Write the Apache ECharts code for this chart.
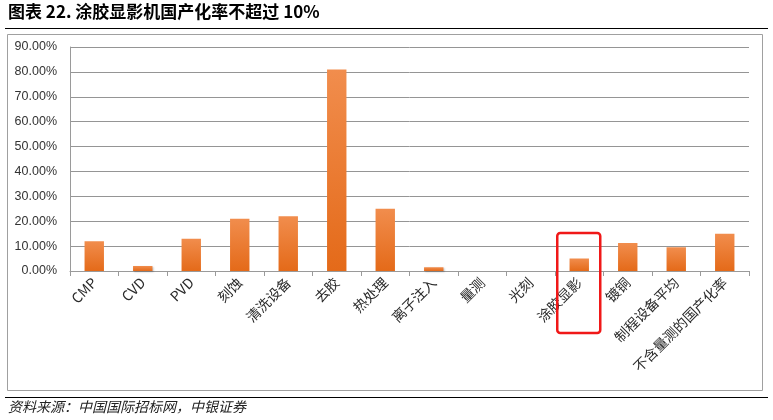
<!DOCTYPE html>
<html>
<head>
<meta charset="utf-8">
<script src="https://cdn.jsdelivr.net/npm/echarts@6/dist/echarts.min.js"></script>
<style>
html,body{margin:0;padding:0;background:#fff;}
#c{width:773px;height:420px;}
</style>
</head>
<body>
<div id="c"></div>
<script>
const categories = ['CMP','CVD','PVD','刻蚀','清洗设备','去胶','热处理','离子注入','量测','光刻','涂胶显影','镀铜','制程设备平均','不含量测的国产化率'];
const values = [12, 2, 13, 21, 22, 81, 25, 1.5, 0, 0, 5, 11.2, 9.5, 15];
const yTicks = {min: 0, max: 90, interval: 10};
const titleText = '图表 22. 涂胶显影机国产化率不超过 10%';
const sourceText = '资料来源：中国国际招标网，中银证券';
const highlightIndex = 10;

const chart = echarts.init(document.getElementById('c'), null, {renderer: 'canvas'});
const cjk = '"Noto Sans CJK SC", "Liberation Sans", sans-serif';
function frameGraphics(box) {
  const g = [
    {type: 'text', left: 8, top: 3, style: {text: titleText, font: 'bold 17px ' + cjk, fill: '#000'}},
    {type: 'line', shape: {x1: 5, y1: 28.5, x2: 768, y2: 28.5}, style: {stroke: '#000', lineWidth: 1.2}},
    {type: 'rect', shape: {x: 7.5, y: 34.5, width: 755, height: 356}, style: {fill: 'none', stroke: '#a0a0a0', lineWidth: 1}},
    {type: 'line', shape: {x1: 5, y1: 397.5, x2: 768, y2: 397.5}, style: {stroke: '#000', lineWidth: 1.2}},
    {type: 'text', left: 8, top: 400, style: {text: sourceText, font: 'italic 14px ' + cjk, fill: '#222'}}
  ];
  if (box) g.push(box);
  return g;
}
const option = {
  backgroundColor: '#fff',
  animation: false,
  grid: {left: 70, right: 24, top: 47, bottom: 149, containLabel: false},
  xAxis: {
    type: 'category',
    data: categories,
    axisLine: {show: true, lineStyle: {color: '#9a9a9a', width: 1}},
    axisTick: {show: true, length: 5, alignWithLabel: false, lineStyle: {color: '#9a9a9a'}},
    axisLabel: {rotate: 45, interval: 0, margin: 9, fontSize: 14, color: '#2a2a2a', fontFamily: cjk}
  },
  yAxis: {
    type: 'value',
    min: yTicks.min, max: yTicks.max, interval: yTicks.interval,
    axisLine: {show: true, lineStyle: {color: '#9a9a9a'}},
    axisTick: {show: false},
    splitLine: {lineStyle: {color: '#959595', width: 1}},
    axisLabel: {formatter: v => v.toFixed(2) + '%', fontSize: 12.5, color: '#333', margin: 13, fontFamily: '"Liberation Sans", Arial, sans-serif'}
  },
  series: [{
    type: 'bar',
    data: values,
    barWidth: '40%',
    itemStyle: {
      color: new echarts.graphic.LinearGradient(0, 0, 0, 1, [
        {offset: 0, color: '#F18D4D'},
        {offset: 1, color: '#E46A19'}
      ]),
      shadowBlur: 2, shadowColor: 'rgba(0,0,0,0.25)', shadowOffsetX: 1, shadowOffsetY: 1
    }
  }],
  graphic: frameGraphics(null)
};
chart.setOption(option);
const p0 = chart.convertToPixel({seriesIndex: 0}, [highlightIndex, 0]);
chart.setOption({
  graphic: frameGraphics({type: 'rect', shape: {x: p0[0] - 22, y: p0[1] - 38, width: 43, height: 100, r: 3}, style: {fill: 'none', stroke: '#f01818', lineWidth: 2.5}, z: 100})
}, {replaceMerge: ['graphic']});
</script>
</body>
</html>
